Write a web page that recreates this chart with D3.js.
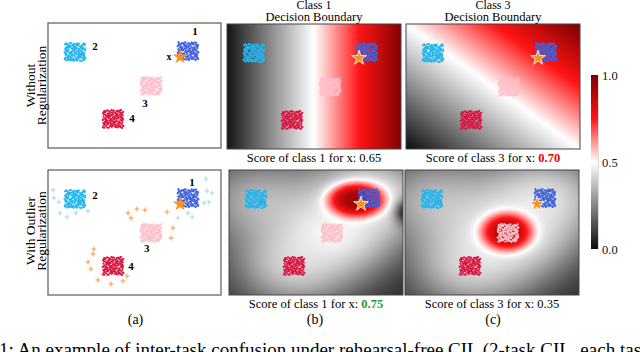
<!DOCTYPE html>
<html><head><meta charset="utf-8">
<script src="https://cdn.jsdelivr.net/npm/d3@7"></script>
<style>body{margin:0;background:#fff}svg{display:block}text{font-family:"Liberation Serif","DejaVu Serif",serif}</style>
</head><body><svg id="chart" width="640" height="352"></svg>
<script>
// ---------- data ----------
const clusterLabels = ["1", "2", "3", "4"];
const clusterX = [8.05, 1.55, 5.92, 3.74];
const clusterY = [7.76, 7.68, 4.96, 2.32];
const starX = [7.59];
const starY = [7.28];
const labelTopX = [8.45, 2.70, 5.57, 4.83];
const labelTopY = [9.28, 8.08, 3.52, 2.32];
const labelBotX = [8.28, 2.70, 5.68, 4.77];
const labelBotY = [8.96, 7.92, 3.68, 2.24];
const outlierOrangeX = [4.60, 4.77, 5.11, 5.57, 6.84, 7.18, 7.07, 2.64, 2.59, 2.30, 2.47, 2.87, 3.62, 4.31, 4.54];
const outlierOrangeY = [6.56, 6.16, 6.88, 6.80, 6.64, 5.36, 4.56, 3.68, 3.28, 2.64, 2.08, 1.20, 0.88, 1.12, 1.52];
const outlierCyanX = [0.29, 0.34, 0.63, 0.69, 1.09, 1.61, 2.30, 9.08, 9.14, 9.43, 8.97, 9.25, 8.05, 8.28, 7.47];
const outlierCyanY = [8.40, 7.76, 7.44, 6.56, 6.24, 6.56, 6.72, 9.28, 8.32, 8.16, 7.36, 7.44, 6.56, 6.24, 6.16];
const boundaryClasses = [1, 3];
const scoresWithout = [0.65, 0.70];
const scoresWith = [0.75, 0.35];
const blobCX = [7.30, 5.86];
const blobCY = [7.60, 5.04];
const blobRX = [1.60, 1.44];
const blobRY = [1.36, 1.48];
const colorbarTicks = [0.0, 0.5, 1.0];
const rowLabels = [["Without", "Regularization"], ["With Outlier", "Regularization"]];
const panelLetters = ["(a)", "(b)", "(c)"];

// ---------- style ----------
const clusterColors = ["#3f62dd", "#22b5ee", "#ffbfca", "#dc1440"];
const cmap = d3.scaleLinear().domain([0, 0.5, 0.75, 1]).range(["#0b0b0b", "#ffffff", "#ff1414", "#7a0000"]).clamp(true);
const PW = 174, PH = 125;
const boxes = {a1: [48, 23], b1: [227, 24], c1: [406, 24], a2: [48, 170], b2: [229, 170], c2: [405, 170]};

const svg = d3.select("#chart");

function scales(key) {
  const [l, t] = boxes[key];
  return {x: d3.scaleLinear([0, 10], [l, l + PW]), y: d3.scaleLinear([0, 10], [t + PH, t]), l, t};
}
function halton(i, b) { let f = 1, r = 0; while (i > 0) { f /= b; r += f * (i % b); i = Math.floor(i / b); } return r; }

// cluster point cloud (deterministic low-discrepancy layout)
const cloud = [];
clusterX.forEach((cx, k) => {
  for (let i = 0; i < 130; i++) {
    const n = 7 + i + k * 173;
    cloud.push({k, x: cx + (halton(n, 2) - 0.5) * 1.2, y: clusterY[k] + (halton(n, 3) - 0.5) * 1.45});
  }
});

// score fields
function haze(x, y, w, sig) {
  let p = 1;
  clusterX.forEach((cx, i) => {
    const d2 = (x - cx) ** 2 + (y - clusterY[i]) ** 2;
    p *= 1 - w[i] * Math.exp(-d2 / (2 * sig * sig));
  });
  return 0.05 + 0.45 * (1 - p);
}
function blob(s, x, y, j, peak) {
  const r2 = ((x - blobCX[j]) / blobRX[j]) ** 2 + ((y - blobCY[j]) / blobRY[j]) ** 2;
  const f = Math.exp(-Math.pow(r2, 1.6));
  return s + (peak - s) * f;
}
const fields = {
  b1: (x, y) => 0.02 + 0.96 * x / 10,
  c1: (x, y) => (x / 10 + y / 10) / 2,
  b2: (x, y) => {
    let s = haze(x, y, [0.97, 0.6, 0.92, 0.72], 2.5);
    s *= 1 - 0.95 * Math.exp(-((x - 10.2) ** 2) / (2 * 0.45 ** 2) - ((y - 6.6) ** 2) / (2 * 0.7 ** 2));
    return blob(s, x, y, 0, 0.93);
  },
  c2: (x, y) => {
    let s = haze(x, y, [0.8, 0.62, 0.97, 0.72], 2.6);
    return blob(s, x, y, 1, 0.9);
  }
};

function heat(g, key) {
  const sc = scales(key);
  const cv = document.createElement("canvas");
  cv.width = PW; cv.height = PH;
  const ctx = cv.getContext("2d");
  const img = ctx.createImageData(PW, PH);
  for (let py = 0; py < PH; py++) for (let px = 0; px < PW; px++) {
    const x = sc.x.invert(sc.l + px + 0.5), y = sc.y.invert(sc.t + py + 0.5);
    const c = d3.rgb(cmap(fields[key](x, y)));
    const o = (py * PW + px) * 4;
    img.data[o] = c.r; img.data[o + 1] = c.g; img.data[o + 2] = c.b; img.data[o + 3] = 255;
  }
  ctx.putImageData(img, 0, 0);
  g.append("image").attr("x", sc.l).attr("y", sc.t).attr("width", PW).attr("height", PH)
    .attr("preserveAspectRatio", "none").attr("href", cv.toDataURL());
}

function drawPanel(key, opts) {
  const sc = scales(key);
  const g = svg.append("g");
  const w = key[0] === "a" ? 173 : PW;
  if (opts.heat) heat(g, key);
  if (opts.outliers) {
    const plus = (xs, ys, col) => xs.forEach((xv, i) => {
      const px = sc.x(xv), py = sc.y(ys[i]);
      g.append("path").attr("d", `M${px - 2.5},${py}H${px + 2.5}M${px},${py - 2.5}V${py + 2.5}`)
        .attr("stroke", col).attr("stroke-width", 1.1).attr("fill", "none");
    });
    plus(outlierCyanX, outlierCyanY, "#a9dbe9");
    plus(outlierOrangeX, outlierOrangeY, "#f4a055");
  }
  g.selectAll(null).data(cloud).join("circle")
    .attr("cx", d => sc.x(d.x)).attr("cy", d => sc.y(d.y)).attr("r", 1.1)
    .attr("fill", d => clusterColors[d.k]);
  g.selectAll(null).data(starX).join("path")
    .attr("transform", (d, i) => `translate(${sc.x(d)},${sc.y(starY[i])})`)
    .attr("d", d3.symbol(d3.symbolStar, 68)).attr("fill", "#f7931e")
    .attr("stroke", "#fff").attr("stroke-width", opts.heat ? 0.8 : 0);
  if (opts.labels) {
    g.selectAll(null).data(clusterLabels).join("text")
      .attr("x", (d, i) => sc.x(opts.labels[0][i])).attr("y", (d, i) => sc.y(opts.labels[1][i]))
      .attr("text-anchor", "middle").attr("dominant-baseline", "middle")
      .attr("font-size", 11).attr("font-weight", "bold").text(d => d);
    if (opts.xmark) g.append("text").attr("x", sc.x(6.95)).attr("y", sc.y(7.2))
      .attr("text-anchor", "middle").attr("dominant-baseline", "middle")
      .attr("font-size", 10).attr("font-weight", "bold").text("x");
  }
  g.append("rect").attr("x", sc.l).attr("y", sc.t).attr("width", w).attr("height", PH)
    .attr("fill", "none").attr("stroke", key[0] === "a" ? "#666" : "#444").attr("stroke-width", key[0] === "a" ? 1.3 : 1);
}

drawPanel("a1", {labels: [labelTopX, labelTopY], xmark: true});
drawPanel("a2", {labels: [labelBotX, labelBotY], outliers: true});
["b1", "c1", "b2", "c2"].forEach(k => drawPanel(k, {heat: true}));

// titles
[["b1", 0], ["c1", 1]].forEach(([k, i]) => {
  const cx = boxes[k][0] + PW / 2;
  svg.append("text").attr("x", cx).attr("y", 9).attr("text-anchor", "middle").attr("font-size", 12).text("Class " + boundaryClasses[i]);
  svg.append("text").attr("x", cx).attr("y", 21).attr("text-anchor", "middle").attr("font-size", 12.5).text("Decision Boundary");
});

// score captions
function scoreText(key, i, val, style) {
  const cx = boxes[key][0] + PW / 2;
  const t = svg.append("text").attr("x", cx).attr("y", boxes[key][1] + PH + 13).attr("text-anchor", "middle").attr("font-size", 12.5);
  t.append("tspan").text(`Score of class ${boundaryClasses[i]} for x: `);
  const v = t.append("tspan").text(val.toFixed(2));
  if (style) v.attr("fill", style).attr("font-weight", "bold");
}
scoreText("b1", 0, scoresWithout[0], null);
scoreText("c1", 1, scoresWithout[1], "#ee0000");
scoreText("b2", 0, scoresWith[0], "#2e9a2e");
scoreText("c2", 1, scoresWith[1], null);

// row labels
[[85.5, 0], [231, 1]].forEach(([cy, r]) => {
  [35, 45.5].forEach((bx, j) => {
    svg.append("text").attr("transform", `translate(${bx},${cy}) rotate(-90)`)
      .attr("text-anchor", "middle").attr("font-size", 13.5).text(rowLabels[r][j]);
  });
});

// panel letters
[135.5, 315, 493].forEach((x, i) => svg.append("text").attr("x", x).attr("y", 324)
  .attr("text-anchor", "middle").attr("font-size", 14).text(panelLetters[i]));

// colorbar
const cbY = d3.scaleLinear([0, 1], [249, 75]);
const grad = svg.append("defs").append("linearGradient").attr("id", "cb").attr("x1", 0).attr("x2", 0).attr("y1", 1).attr("y2", 0);
d3.range(0, 1.0001, 0.05).forEach(v => grad.append("stop").attr("offset", v).attr("stop-color", cmap(v)));
svg.append("rect").attr("x", 591).attr("y", 75).attr("width", 7).attr("height", 174).attr("fill", "url(#cb)");
const cbAxis = svg.append("g").attr("transform", "translate(598,0)")
  .call(d3.axisRight(cbY).tickValues(colorbarTicks).tickFormat(d3.format(".1f")).tickSize(0).tickPadding(4));
cbAxis.select(".domain").attr("stroke", "#888").attr("stroke-dasharray", "1,1").attr("stroke-width", 0.6);
cbAxis.selectAll("text").attr("font-size", 12.5).attr("font-family", "Liberation Serif").attr("fill", "#111");

// figure caption (cut by the frame)
svg.append("text").attr("x", -1).attr("y", 356).attr("font-size", 19)
  .text("1: An example of inter-task confusion under rehearsal-free CIL (2-task CIL, each task has two classes).");
</script></body></html>
